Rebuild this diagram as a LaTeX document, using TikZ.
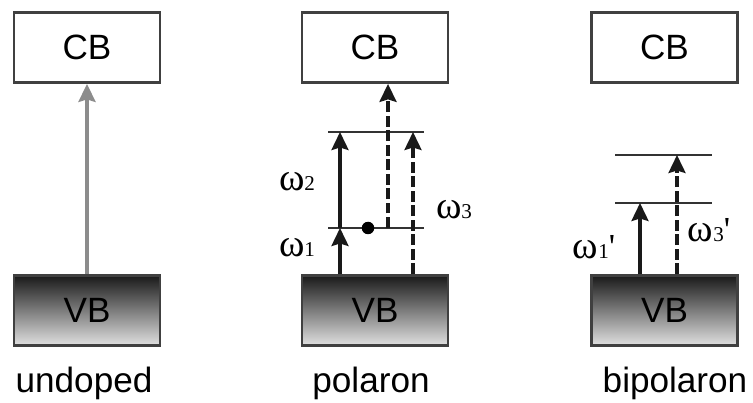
\documentclass[tikz,border=0pt]{standalone}
\usepackage{fontspec}
\setmainfont{Liberation Sans}
\newfontfamily\greekfont{Liberation Serif}
\usetikzlibrary{arrows.meta}

% transition frequency: omega with a small index (and optional prime)
\newcommand{\freq}[2]{{\greekfont\fontsize{22}{24}\selectfont ω\fontsize{12}{12}\selectfont #1\fontsize{20}{24}\selectfont #2}}

\begin{document}
\begin{tikzpicture}[x=0.02cm, y=0.02cm, >={Stealth[length=0.36cm, width=0.34cm, inset=0.05cm]},
    band/.style={rectangle, draw=black!75, line width=1.6pt, minimum width=2.92cm, minimum height=1.4cm, inner sep=0pt, font=\fontsize{20}{24}\selectfont},
    cband/.style={band, fill=white},
    vband/.style={band, top color=black!90, bottom color=black!12},
    level/.style={draw=black!80, line width=1.5pt},
    arrow/.style={->, line width=1.8pt, draw=black!90},
    proj/.style={arrow, dash pattern=on 0.22cm off 0.07cm},
    caption/.style={font=\fontsize{20}{24}\selectfont}]

\useasboundingbox (0,0) rectangle (753,402);

% undoped
\node [cband] (cb1) at (87,354.5) {CB};
\node [vband] (vb1) at (87,91.5) {VB};
\node [caption] (cap1) at (84,19) {undoped};
\draw [arrow, draw=black!45, line width=2pt] (vb1) -- (cb1);

% polaron
\node [cband] (cb2) at (375,354.5) {CB};
\node [vband] (vb2) at (375,91.5) {VB};
\node [caption] (cap2) at (371,19) {polaron};
\coordinate (up2w) at (328,270); \coordinate (up2e) at (424,270);
\coordinate (lo2w) at (328,174); \coordinate (lo2e) at (424,174);
\draw [level] (up2w) -- (up2e);
\draw [level] (lo2w) -- (lo2e);
\coordinate (p1) at (340,174); \coordinate (p2) at (340,270);
\coordinate (p3) at (388,174); \coordinate (p4) at (413,270);
\draw [arrow] (vb2.north -| p1) -- (p1);
\draw [arrow] (p1) -- (p2);
\draw [proj] (p3) -- (cb2.south -| p3);
\draw [proj] (vb2.north -| p4) -- (p4);
\node [circle, fill, inner sep=0pt, minimum size=0.25cm] (hole) at (368,174) {};
\node (w2) at (297,220) {\freq{2}{}};
\node (w1) at (297,154) {\freq{1}{}};
\node (w3) at (454,192) {\freq{3}{}};

% bipolaron
\node [cband] (cb3) at (664.5,354.5) {CB};
\node [vband] (vb3) at (664.5,91.5) {VB};
\node [caption] (cap3) at (675,19) {bipolaron};
\coordinate (up3w) at (615,247); \coordinate (up3e) at (712,247);
\coordinate (lo3w) at (615,199); \coordinate (lo3e) at (712,199);
\draw [level] (up3w) -- (up3e);
\draw [level] (lo3w) -- (lo3e);
\coordinate (b1) at (640,199); \coordinate (b2) at (677,247);
\draw [arrow] (vb3.north -| b1) -- (b1);
\draw [proj] (vb3.north -| b2) -- (b2);
\node (w1p) at (594,155) {\freq{1}{\symbol{39}}};
\node (w3p) at (709,172) {\freq{3}{\symbol{39}}};

\end{tikzpicture}
\end{document}
